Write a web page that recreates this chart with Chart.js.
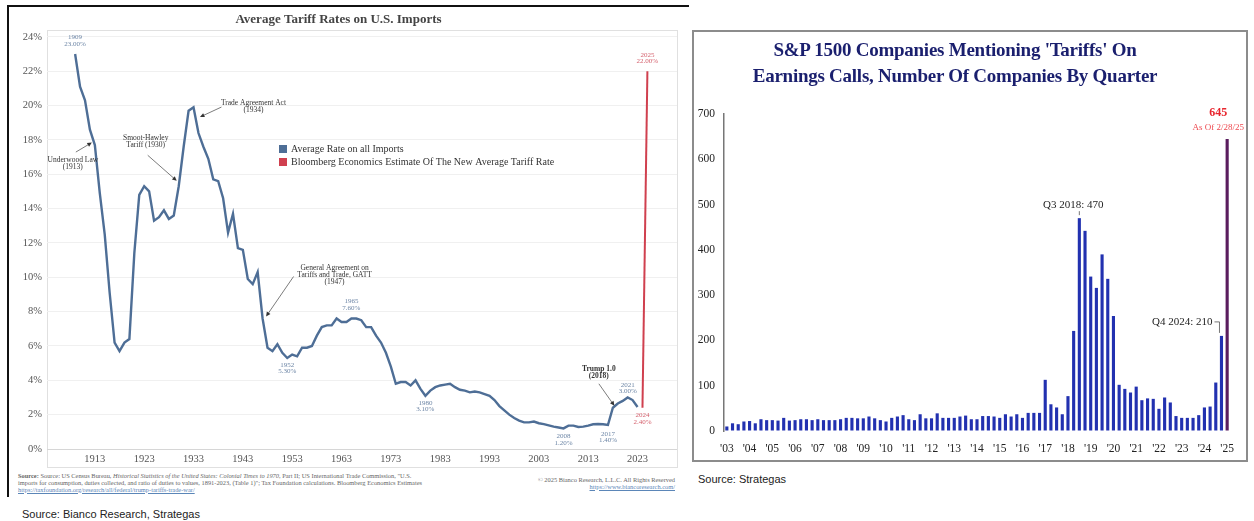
<!DOCTYPE html>
<html>
<head>
<meta charset="utf-8">
<script src="https://cdn.jsdelivr.net/npm/chart.js"></script>
<style>
  body { margin: 0; width: 1254px; height: 521px; background: #fff; position: relative; overflow: hidden; font-family: 'Liberation Serif', serif; }
  #leftFrame { position: absolute; left: 7px; top: 5px; width: 680px; height: 490px; border-top: 2px solid #111; border-left: 2px solid #111; }
  #tariffWrap { position: absolute; left: 0; top: 0; width: 690px; height: 470px; }
  #mentionsWrap { position: absolute; left: 692px; top: 30px; width: 552px; height: 428px; border: 2px solid #8c8c8c; }
  #mentionsTitle { position: absolute; left: 0; top: 5px; width: 522px; text-align: center; font-size: 19px; line-height: 26px;
                   font-weight: bold; letter-spacing: -0.25px; color: #1a1f6e; white-space: nowrap; }
  .fine { position: absolute; font-size: 6.4px; line-height: 6.8px; color: #666; white-space: nowrap; }
  .fine a { color: #5b86b8; text-decoration: underline; }
  .src { position: absolute; font-family: 'Liberation Sans Narrow', 'Liberation Sans', sans-serif; font-size: 11px; color: #222; white-space: nowrap; }
</style>
</head>
<body>
<div id="leftFrame"></div>
<div id="tariffWrap"><canvas id="tariffChart"></canvas></div>
<div id="mentionsWrap">
  <canvas id="mentionsChart"></canvas>
  <div id="mentionsTitle">S&amp;P 1500 Companies Mentioning 'Tariffs' On<br>Earnings Calls, Number Of Companies By Quarter</div>
</div>

<div class="fine" style="left:18px; top:473px;">
  <b>Source:</b> Source: US Census Bureau, <i>Historical Statistics of the United States: Colonial Times to 1970</i>, Part II; US International Trade Commission, "U.S.<br>
  imports for consumption, duties collected, and ratio of duties to values, 1891-2023, (Table 1)"; Tax Foundation calculations. Bloomberg Economics Estimates<br>
  <a>https://taxfoundation.org/research/all/federal/trump-tariffs-trade-war/</a>
</div>
<div class="fine" style="right:579px; top:477px; text-align:right;">
  © 2025 Bianco Research, L.L.C. All Rights Reserved<br>
  <a>https://www.biancoresearch.com/</a>
</div>
<div class="src" style="left:22px; top:508px;">Source: Bianco Research, Strategas</div>
<div class="src" style="left:698px; top:473px;">Source: Strategas</div>

<script>
// ---- Average tariff rate on all US imports, 1909-2023 (percent) ----
const firstYear = 1909;
const tariffRates = [
  23.0,
  21.1, 20.3, 18.6, 17.7, 14.9, 12.5, 9.1, 6.2, 5.7, 6.2,
  6.4, 11.4, 14.8, 15.3, 15.0, 13.3, 13.5, 13.9, 13.4, 13.6,
  15.3, 17.6, 19.7, 19.9, 18.4, 17.6, 16.9, 15.7, 15.6, 14.6,
  12.6, 13.7, 11.7, 11.6, 9.9, 9.6, 10.3, 7.6, 5.9, 5.7,
  6.1, 5.6, 5.3, 5.5, 5.4, 5.9, 5.9, 6.0, 6.6, 7.1,
  7.2, 7.2, 7.6, 7.4, 7.4, 7.6, 7.6, 7.5, 7.1, 7.1,
  6.6, 6.2, 5.6, 4.8, 3.8, 3.9, 3.9, 3.7, 4.0, 3.5,
  3.1, 3.4, 3.6, 3.7, 3.75, 3.8, 3.6, 3.45, 3.4, 3.3,
  3.35, 3.3, 3.2, 3.1, 2.85, 2.5, 2.25, 2.0, 1.8, 1.65,
  1.55, 1.55, 1.6, 1.5, 1.45, 1.38, 1.3, 1.25, 1.2, 1.36,
  1.36, 1.28, 1.3, 1.36, 1.44, 1.46, 1.44, 1.4, 2.4, 2.65,
  2.8, 3.0, 2.85, 2.45
];
// Bloomberg Economics estimate
const estimateYears = [2024, 2025];
const estimateRates = [2.4, 22.0];
const decadeTicks = [1913, 1923, 1933, 1943, 1953, 1963, 1973, 1983, 1993, 2003, 2013, 2023];
const taggedYears = [1909, 1952, 1965, 1980, 2008, 2017, 2021, 2024, 2025];
const eventYears = [1913, 1930, 1934, 1947, 2018];
const eventTexts = [
  ['Underwood Law', '(1913)'],
  ['Smoot-Hawley', 'Tariff (1930)'],
  ['Trade Agreement Act', '(1934)'],
  ['General Agreement on', 'Tariffs and Trade, GATT', '(1947)'],
  ['Trump 1.0', '(2018)']
];
const seriesNames = ['Average Rate on all Imports', 'Bloomberg Economics Estimate Of The New Average Tariff Rate'];

// ---- S&P 1500 companies mentioning "tariffs" on earnings calls, Q1 2003 - Q1 2025 ----
const mentionYears = ['03','04','05','06','07','08','09','10','11','12','13','14','15','16','17','18','19','20','21','22','23','24','25'];
const mentionCounts = [
  10, 17, 15, 21,   22, 17, 26, 24,   24, 23, 29, 23,   24, 26, 26, 24,
  26, 24, 24, 24,   26, 29, 29, 28,   28, 32, 28, 24,   21, 29, 32, 35,
  26, 24, 37, 28,   28, 39, 29, 29,   29, 32, 34, 26,   26, 33, 33, 32,
  29, 37, 32, 37,   29, 40, 40, 40,   113, 59, 52, 37,  77, 221, 470, 442,
  341, 316, 390, 336,   254, 102, 93, 85,   98, 68, 72, 71,   49, 74, 63, 33,
  29, 29, 29, 35,   52, 54, 107, 210,   645
];

const serif = "'Liberation Serif', serif";
const lineBlue = '#4e6e96';
const lineRed = '#d0404f';
const tagBlue = '#6d86a6';
const tagRed = '#d45f6b';

const rateFor = (yr) => {
  const i = estimateYears.indexOf(yr);
  return i >= 0 ? estimateRates[i] : tariffRates[yr - firstYear];
};

function drawArrow(ctx, x1, y1, x2, y2) {
  const ang = Math.atan2(y2 - y1, x2 - x1);
  ctx.beginPath();
  ctx.moveTo(x1, y1);
  ctx.lineTo(x2 - Math.cos(ang) * 3, y2 - Math.sin(ang) * 3);
  ctx.stroke();
  ctx.beginPath();
  ctx.moveTo(x2, y2);
  ctx.lineTo(x2 - 5 * Math.cos(ang - 0.45), y2 - 5 * Math.sin(ang - 0.45));
  ctx.lineTo(x2 - 5 * Math.cos(ang + 0.45), y2 - 5 * Math.sin(ang + 0.45));
  ctx.closePath();
  ctx.fill();
}

// light frame round the plot and the x labels
const tariffFrame = {
  id: 'tariffFrame',
  beforeDraw(chart) {
    const {ctx, chartArea: a} = chart;
    ctx.save();
    ctx.strokeStyle = '#e0e0e0';
    ctx.lineWidth = 1;
    ctx.strokeRect(a.left + 0.5, a.top + 0.5, a.right - a.left, a.bottom - a.top + 18);
    ctx.restore();
  }
};

// value tags, event callouts and the legend box
const tariffNotes = {
  id: 'tariffNotes',
  afterDatasetsDraw(chart) {
    const {ctx, scales: {x, y}} = chart;
    const tagOffsets = {1909: [-17, -10], 1952: [7, 13], 1965: [-17, -10], 1980: [7, 13], 2008: [8, 15],
                        2017: [9, 15], 2021: [-12, -6], 2024: [7, 14], 2025: [-16, -10]};
    ctx.save();
    ctx.textAlign = 'center';
    ctx.textBaseline = 'middle';
    ctx.font = '7px ' + serif;
    taggedYears.forEach((yr) => {
      const v = rateFor(yr);
      const px = x.getPixelForValue(yr);
      const py = y.getPixelForValue(v);
      const off = tagOffsets[yr];
      ctx.fillStyle = estimateYears.includes(yr) ? tagRed : tagBlue;
      ctx.fillText(String(yr), px, py + off[0]);
      ctx.fillText(v.toFixed(2) + '%', px, py + off[1]);
    });

    // callouts: text centre, arrow start and arrow tip relative to the year's point
    const callouts = [
      {text: [-22, 15], from: [-19, 7], tip: [-3, -2.5]},
      {text: [-33, -48], from: [-31, -31], tip: [-2, -5.5]},
      {text: [55, -30], from: [23, -26], tip: [1.5, -16]},
      {text: [72, -50], from: [31, -42], tip: [3.5, -2]},
      {text: [-14, -39], from: [-14, -24], tip: [1.5, -2]}
    ];
    ctx.fillStyle = '#333';
    ctx.strokeStyle = '#444';
    ctx.lineWidth = 0.7;
    eventYears.forEach((yr, i) => {
      const px = x.getPixelForValue(yr);
      const py = y.getPixelForValue(rateFor(yr));
      const c = callouts[i];
      ctx.font = (yr === 2018 ? 'bold 7.5px ' : '7.5px ') + serif;
      eventTexts[i].forEach((line, k) => ctx.fillText(line, px + c.text[0], py + c.text[1] + k * 7));
      drawArrow(ctx, px + c.from[0], py + c.from[1], px + c.tip[0], py + c.tip[1]);
    });

    // legend
    ctx.textAlign = 'left';
    ctx.font = '10px ' + serif;
    chart.data.datasets.forEach((ds, i) => {
      const ly = 149 + i * 13;
      ctx.fillStyle = ds.borderColor;
      ctx.fillRect(279, ly - 4, 8, 8);
      ctx.fillStyle = '#333';
      ctx.fillText(ds.label, 291, ly);
    });
    ctx.restore();
  }
};

new Chart(document.getElementById('tariffChart'), {
  type: 'line',
  data: {
    datasets: [{
      label: seriesNames[0],
      data: tariffRates.map((v, i) => ({x: firstYear + i, y: v})),
      borderColor: lineBlue,
      borderWidth: 2.4,
      pointRadius: 0,
      tension: 0
    }, {
      label: seriesNames[1],
      data: estimateYears.map((yr, i) => ({x: yr, y: estimateRates[i]})),
      borderColor: lineRed,
      borderWidth: 2,
      pointRadius: 0,
      tension: 0
    }]
  },
  options: {
    responsive: true,
    maintainAspectRatio: false,
    animation: false,
    layout: { autoPadding: false, padding: { left: 0, right: 13, top: 0, bottom: 3 } },
    scales: {
      x: {
        type: 'linear',
        min: 1903.3,
        max: 2031,
        afterBuildTicks: (scale) => { scale.ticks = decadeTicks.map((v) => ({value: v})); },
        afterFit: (scale) => { scale.height = 18; },
        grid: { display: false, drawTicks: false },
        border: { display: false },
        ticks: { color: '#555', font: { family: serif, size: 10.5 }, padding: 4, maxRotation: 0, callback: (v) => String(v) }
      },
      y: {
        min: 0,
        max: 24.4,
        afterFit: (scale) => { scale.width = 47; },
        grid: { color: (c) => (c.tick && c.tick.value === 0 ? '#d6d6d6' : '#f0f0f0'), drawTicks: false },
        border: { display: false },
        ticks: { stepSize: 2, includeBounds: false, color: '#555', font: { family: serif, size: 10.5 }, padding: 5,
                 callback: (v) => v + '%' }
      }
    },
    plugins: {
      legend: { display: false },
      tooltip: { enabled: false },
      title: {
        display: true,
        text: 'Average Tariff Rates on U.S. Imports',
        color: '#444',
        font: { family: serif, size: 13, weight: 'bold', lineHeight: 1.2 },
        padding: { top: 11.5, bottom: 2.9 }
      }
    }
  },
  plugins: [tariffFrame, tariffNotes]
});

// ---- quarterly bars ----
const quarterLabels = [];
mentionYears.forEach((yy) => {
  ['Q1', 'Q2', 'Q3', 'Q4'].forEach((q) => quarterLabels.push(q + ' 20' + yy));
});
quarterLabels.length = mentionCounts.length;
const lastIdx = mentionCounts.length - 1;

const mentionNotes = {
  id: 'mentionNotes',
  afterDatasetsDraw(chart) {
    const {ctx} = chart;
    const bars = chart.getDatasetMeta(0).data;
    ctx.save();
    ctx.textBaseline = 'middle';
    ctx.font = '11px ' + serif;
    ctx.fillStyle = '#222';
    ctx.strokeStyle = '#555';
    ctx.lineWidth = 0.8;

    const peak = quarterLabels.indexOf('Q3 2018');
    const pb = bars[peak];
    ctx.textAlign = 'center';
    ctx.fillText('Q3 2018: ' + mentionCounts[peak], pb.x - 6, pb.y - 13);
    ctx.beginPath();
    ctx.moveTo(pb.x, pb.y - 7);
    ctx.lineTo(pb.x, pb.y - 3);
    ctx.stroke();

    const recent = quarterLabels.indexOf('Q4 2024');
    const rb = bars[recent];
    ctx.textAlign = 'right';
    ctx.fillText('Q4 2024: ' + mentionCounts[recent], rb.x - 9, rb.y - 14);
    ctx.beginPath();
    ctx.moveTo(rb.x - 7, rb.y - 14);
    ctx.lineTo(rb.x - 2, rb.y - 14);
    ctx.lineTo(rb.x - 2, rb.y - 3);
    ctx.stroke();

    const lb = bars[lastIdx];
    ctx.textAlign = 'center';
    ctx.fillStyle = '#e8262e';
    ctx.font = 'bold 12px ' + serif;
    ctx.fillText(String(mentionCounts[lastIdx]), lb.x - 9, lb.y - 26);
    ctx.fillStyle = '#ee4a50';
    ctx.font = '9px ' + serif;
    ctx.fillText('As Of 2/28/25', lb.x - 9, lb.y - 11);
    ctx.restore();
  }
};

new Chart(document.getElementById('mentionsChart'), {
  type: 'bar',
  data: {
    labels: quarterLabels,
    datasets: [{
      data: mentionCounts,
      backgroundColor: (c) => (c.dataIndex === lastIdx ? '#5a1d5e' : '#2231b0'),
      barPercentage: 0.55,
      categoryPercentage: 1
    }]
  },
  options: {
    responsive: true,
    maintainAspectRatio: false,
    animation: false,
    layout: { autoPadding: false, padding: { left: 0, right: 16, top: 82, bottom: 0 } },
    scales: {
      x: {
        afterFit: (scale) => { scale.height = 29; },
        grid: { display: false },
        border: { display: false },
        ticks: {
          autoSkip: false, maxRotation: 0, minRotation: 0, padding: 3,
          color: '#222', font: { family: serif, size: 11.5 },
          callback: (v, i) => (i % 4 === 0 ? "'" + mentionYears[i / 4] : '')
        }
      },
      y: {
        min: 0,
        max: 700,
        afterFit: (scale) => { scale.width = 30; },
        grid: { display: true, drawOnChartArea: false, drawTicks: false },
        border: { display: true, color: '#777', width: 1.5 },
        ticks: { stepSize: 100, color: '#222', font: { family: serif, size: 11.5 }, padding: 9 }
      }
    },
    plugins: {
      legend: { display: false },
      tooltip: { enabled: false },
      title: { display: false }
    }
  },
  plugins: [mentionNotes]
});
</script>
</body>
</html>
